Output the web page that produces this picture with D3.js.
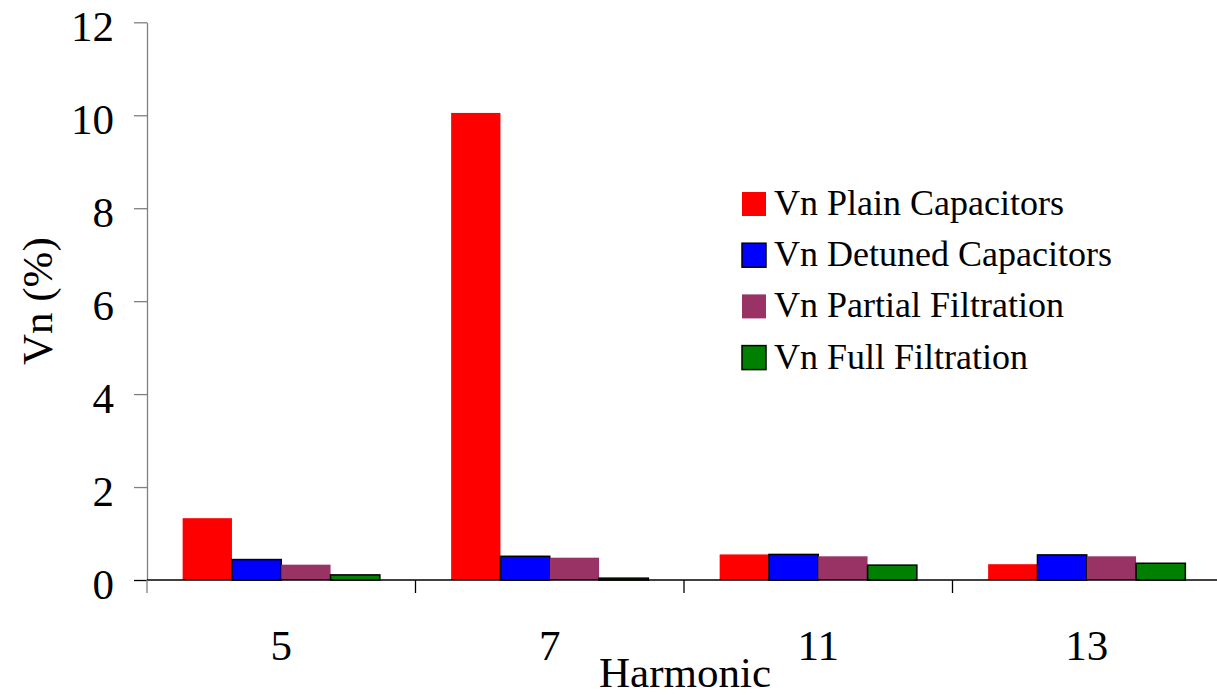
<!DOCTYPE html>
<html>
<head>
<meta charset="utf-8">
<script src="https://cdn.jsdelivr.net/npm/d3@7"></script>
<style>
  body { margin: 0; background: #fff; }
  text { font-family: "Liberation Serif", "Times New Roman", serif; fill: #000; }
</style>
</head>
<body>
<div id="chart"></div>
<script>
var harmonics = ["5", "7", "11", "13"];
var seriesNames = ["Vn Plain Capacitors", "Vn Detuned Capacitors", "Vn Partial Filtration", "Vn Full Filtration"];
var plainCaps = [1.33, 10.05, 0.55, 0.34];
var detunedCaps = [0.44, 0.51, 0.55, 0.54];
var partialFilt = [0.33, 0.48, 0.51, 0.51];
var fullFilt = [0.11, 0.04, 0.32, 0.36];
var yTicks = [0, 2, 4, 6, 8, 10, 12];

var colors = ["#FF0000", "#0000FF", "#993366", "#008000"];
var outlined = [false, true, false, true];
var allSeries = [plainCaps, detunedCaps, partialFilt, fullFilt];

var width = 1217, height = 695;
var plotLeft = 147, plotRight = 1221, plotTop = 22.3, plotBottom = 580;

var svg = d3.select("#chart").append("svg")
    .attr("width", width)
    .attr("height", height);

var x0 = d3.scaleBand().domain(harmonics).range([plotLeft, plotRight]).padding(0);
var x1 = d3.scaleBand().domain(d3.range(seriesNames.length))
    .range([0, x0.bandwidth()]).paddingInner(0).paddingOuter(0.723);
var y = d3.scaleLinear().domain([0, 12]).range([plotBottom, plotTop]);

// bars
var groups = svg.selectAll(".grp")
  .data(harmonics)
  .enter().append("g")
    .attr("transform", function(d) { return "translate(" + x0(d) + ",0)"; });

groups.selectAll("rect")
  .data(function(d, i) { return allSeries.map(function(s, j) { return {s: j, v: s[i]}; }); })
  .enter().append("rect")
    .attr("x", function(d) { return x1(d.s); })
    .attr("width", x1.bandwidth())
    .attr("y", function(d) { return y(d.v); })
    .attr("height", function(d) { return plotBottom - y(d.v); })
    .attr("fill", function(d) { return colors[d.s]; })
    .attr("stroke", function(d) { return outlined[d.s] ? "#000" : "none"; })
    .attr("stroke-width", 1.5);

// y axis
var yAxis = svg.append("g")
    .attr("transform", "translate(" + plotLeft + ",0)")
    .call(d3.axisLeft(y).tickValues(yTicks).tickSize(13).tickPadding(20).tickSizeOuter(0));
yAxis.select(".domain").attr("stroke", "#808080").attr("stroke-width", 1.3);
yAxis.selectAll(".tick line").attr("stroke", "#808080").attr("stroke-width", 1.3);
yAxis.selectAll(".tick text")
    .attr("font-size", 43)
    .attr("font-family", "Liberation Serif")
    .attr("dy", 18)
    .attr("fill", "#000");
yAxis.selectAll(".tick").filter(function(d) { return d === 0; }).select("line").attr("stroke", "#000");

// category axis
var xAxis = svg.append("g")
    .attr("transform", "translate(0," + plotBottom + ")");
xAxis.append("line")
    .attr("x1", plotLeft).attr("x2", plotRight)
    .attr("y1", 0).attr("y2", 0)
    .attr("stroke", "#000").attr("stroke-width", 1.5);
xAxis.selectAll(".sep")
  .data(harmonics.concat(["end"]))
  .enter().append("line")
    .attr("x1", function(d, i) { return plotLeft + i * x0.bandwidth(); })
    .attr("x2", function(d, i) { return plotLeft + i * x0.bandwidth(); })
    .attr("y1", 0).attr("y2", 13)
    .attr("stroke", function(d, i) { return i === 0 ? "#808080" : "#000"; })
    .attr("stroke-width", 1.3);
xAxis.selectAll(".lab")
  .data(harmonics)
  .enter().append("text")
    .attr("x", function(d) { return x0(d) + x0.bandwidth() / 2; })
    .attr("y", 80)
    .attr("text-anchor", "middle")
    .attr("font-size", 43)
    .text(function(d) { return d; });

// axis titles
svg.append("text")
    .attr("x", (plotLeft + plotRight) / 2 + 1)
    .attr("y", 687)
    .attr("text-anchor", "middle")
    .attr("font-size", 43)
    .text("Harmonic");

svg.append("text")
    .attr("transform", "translate(52," + (plotTop + plotBottom) / 2 + ") rotate(-90)")
    .attr("text-anchor", "middle")
    .attr("font-size", 43)
    .text("Vn (%)");

// legend
var legend = svg.append("g").attr("transform", "translate(742,192)");
var items = legend.selectAll(".item")
  .data(seriesNames)
  .enter().append("g")
    .attr("transform", function(d, i) { return "translate(0," + (i * 51.2) + ")"; });
items.append("rect")
    .attr("width", 24).attr("height", 24)
    .attr("fill", function(d, i) { return colors[i]; })
    .attr("stroke", function(d, i) { return outlined[i] ? "#000" : "none"; })
    .attr("stroke-width", 1.5);
items.append("text")
    .attr("x", 32)
    .attr("y", 23)
    .attr("font-size", 36)
    .text(function(d) { return d; });
</script>
</body>
</html>
